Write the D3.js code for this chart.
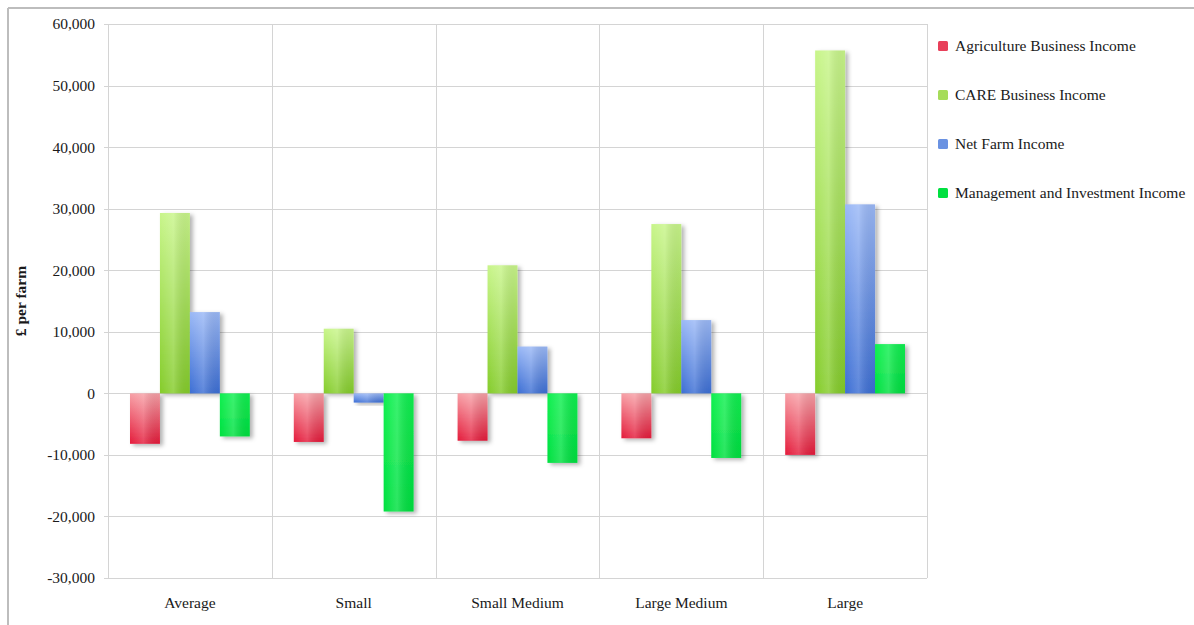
<!DOCTYPE html>
<html><head><meta charset="utf-8">
<script src="https://cdn.jsdelivr.net/npm/d3@7"></script>
<style>
html,body{margin:0;padding:0;background:#fff;}
svg{display:block;}
text{font-family:"Liberation Serif","Times New Roman",serif;fill:#1a1a1a;}
</style></head>
<body>
<svg id="chart" width="1194" height="625"></svg>
<script>
const categories = ["Average", "Small", "Small Medium", "Large Medium", "Large"];
const seriesNames = ["Agriculture Business Income", "CARE Business Income", "Net Farm Income", "Management and Investment Income"];
const agricultureBusinessIncome = [-8200, -7900, -7700, -7300, -10000];
const careBusinessIncome = [29300, 10500, 20800, 27500, 55700];
const netFarmIncome = [13200, -1500, 7600, 11900, 30700];
const managementInvestmentIncome = [-7000, -19200, -11300, -10500, 8000];
const yTicks = [-30000, -20000, -10000, 0, 10000, 20000, 30000, 40000, 50000, 60000];

(function(){
const seriesValues = [agricultureBusinessIncome, careBusinessIncome, netFarmIncome, managementInvestmentIncome];
const gradients = [
  {top:"#f7a0a6", bottom:"#e41a3a", legend:"#e8405a"},
  {top:"#c8f58a", bottom:"#84cc2a", legend:"#a6dc5a"},
  {top:"#9ab8f6", bottom:"#3c6ed4", legend:"#6a92e2"},
  {top:"#10f050", bottom:"#00e040", legend:"#00e040"}
];
const fs = 15.5;

const svg = d3.select("#chart");
const defs = svg.append("defs");
gradients.forEach((g,i)=>{
  const lg = defs.append("linearGradient").attr("id","g"+i).attr("x1",0).attr("y1",0).attr("x2",0).attr("y2",1);
  lg.append("stop").attr("offset","0%").attr("stop-color",g.top);
  lg.append("stop").attr("offset","100%").attr("stop-color",g.bottom);
  const hg = defs.append("linearGradient").attr("id","h"+i).attr("x1",0).attr("y1",0).attr("x2",1).attr("y2",0);
  hg.append("stop").attr("offset","0%").attr("stop-color","#fff").attr("stop-opacity",0.0);
  hg.append("stop").attr("offset","45%").attr("stop-color","#fff").attr("stop-opacity",0.18);
  hg.append("stop").attr("offset","100%").attr("stop-color","#000").attr("stop-opacity",0.04);
});
const flt = defs.append("filter").attr("id","shadow").attr("x","-20%").attr("y","-20%").attr("width","150%").attr("height","150%");
flt.append("feDropShadow").attr("dx",3).attr("dy",2).attr("stdDeviation",2).attr("flood-color","#000").attr("flood-opacity",0.3);

// outer border
svg.append("line").attr("x1",8).attr("x2",1194).attr("y1",8).attr("y2",8).attr("stroke","#bdbdbd").attr("stroke-width",2);
svg.append("line").attr("x1",8).attr("x2",8).attr("y1",8).attr("y2",625).attr("stroke","#bdbdbd").attr("stroke-width",2);

const pLeft = 108, pRight = 927, pTop = 24, pBottom = 578;
const y = d3.scaleLinear().domain([-30000, 60000]).range([pBottom, pTop]);
const x0 = d3.scaleBand().domain(categories).range([pLeft, pRight]).padding(0);
const inner = 22;
const x1 = d3.scaleBand().domain(d3.range(seriesNames.length)).range([inner, x0.bandwidth()-inner]).padding(0);

// horizontal gridlines
svg.append("g").selectAll("line").data(yTicks).join("line")
  .attr("x1", pLeft-4).attr("x2", pRight).attr("y1", d=>Math.round(y(d))+0.5).attr("y2", d=>Math.round(y(d))+0.5)
  .attr("stroke","#d4d4d4").attr("stroke-width",1);
// vertical gridlines
const vbounds = categories.map(c=>x0(c)).concat([pRight]);
svg.append("g").selectAll("line").data(vbounds).join("line")
  .attr("x1", d=>Math.round(d)+0.5).attr("x2", d=>Math.round(d)+0.5).attr("y1", pTop).attr("y2", pBottom)
  .attr("stroke","#d4d4d4").attr("stroke-width",1);

// y axis labels
const fmt = d3.format(",");
const yAxis = d3.axisLeft(y).tickValues(yTicks).tickFormat(d=>fmt(d).replace("\u2212","-")).tickSize(0).tickPadding(13);
const ya = svg.append("g").attr("transform",`translate(${pLeft},0)`).call(yAxis);
ya.select(".domain").remove();
ya.selectAll("text").attr("font-size",fs).attr("font-family","'Liberation Serif',serif").attr("fill","#1a1a1a");

// y title
svg.append("text").attr("transform","translate(26,301) rotate(-90)").attr("text-anchor","middle")
  .attr("font-size",15.5).attr("font-weight","bold").text("£ per farm");

// x axis labels
const xAxis = d3.axisBottom(x0).tickSize(0).tickPadding(19);
const xa = svg.append("g").attr("transform",`translate(0,${pBottom})`).call(xAxis);
xa.select(".domain").remove();
xa.selectAll("text").attr("font-size",fs).attr("font-family","'Liberation Serif',serif").attr("fill","#1a1a1a");

// bars
const groups = svg.append("g").selectAll("g").data(categories).join("g")
  .attr("transform", c=>`translate(${x0(c)},0)`);
groups.each(function(c, ci){
  const g = d3.select(this);
  seriesValues.forEach((vals, si)=>{
    const v = vals[ci];
    const y0 = y(Math.max(0,v)), y1 = y(Math.min(0,v));
    g.append("rect").attr("x", x1(si)).attr("y", y0).attr("width", x1.bandwidth()).attr("height", y1-y0)
      .attr("fill", `url(#g${si})`).attr("filter","url(#shadow)");
    g.append("rect").attr("x", x1(si)).attr("y", y0).attr("width", x1.bandwidth()).attr("height", y1-y0)
      .attr("fill", `url(#h${si})`);
  });
});

// legend
const legend = svg.append("g").attr("transform","translate(938,0)");
const legY = d3.scalePoint().domain(seriesNames).range([46, 193]);
seriesNames.forEach((n,i)=>{
  legend.append("rect").attr("x",0).attr("y",legY(n)-5).attr("width",10).attr("height",10).attr("rx",1.5)
    .attr("fill", gradients[i].legend);
  legend.append("text").attr("x",17).attr("y",legY(n)+5).attr("font-size",fs).text(n);
});
})();
</script>
</body></html>
